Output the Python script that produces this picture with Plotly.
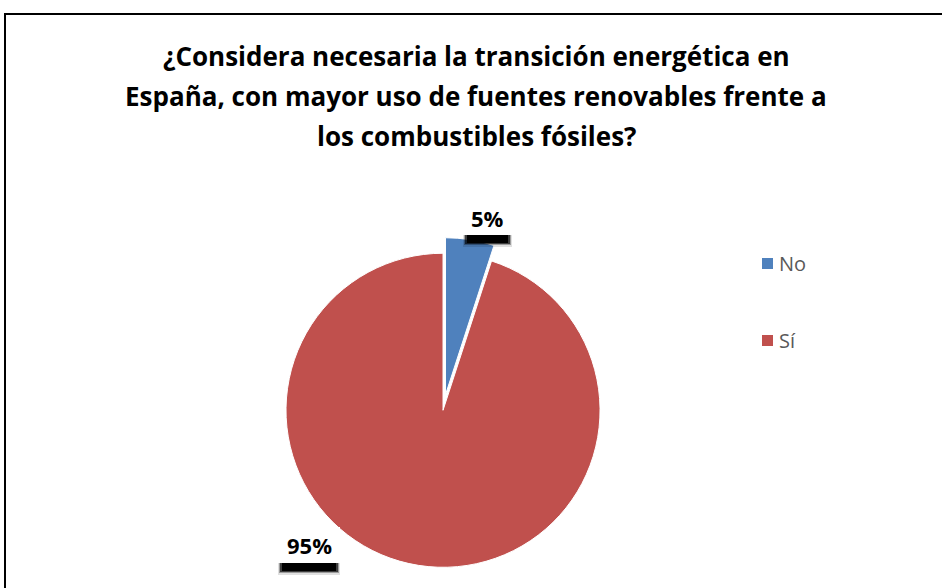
import plotly.graph_objects as go

# data
labels = ["No", "Sí"]
values = [5, 95]
colors = ["#4F81BD", "#C0504D"]
pulls = [0.1, 0]
title_lines = [
    "¿Considera necesaria la transición energética en",
    "España, con mayor uso de fuentes renovables frente a",
    "los combustibles fósiles?",
]

W, H = 942, 588
FONT = "Open Sans"

total = sum(values)
pct = [f"{round(100 * v / total)}%" for v in values]


def px_rect(x0, y0, x1, y1, **kw):
    """Rectangle given in pixels from the top-left corner."""
    return dict(type="rect", xref="paper", yref="paper", layer="above",
                x0=x0 / W, x1=x1 / W, y0=1 - y1 / H, y1=1 - y0 / H, **kw)


fig = go.Figure()
fig.add_trace(go.Pie(
    labels=labels, values=values, sort=False, direction="clockwise",
    rotation=0, pull=pulls, textinfo="none", hoverinfo="label+percent",
    marker=dict(colors=colors, line=dict(color="white", width=1)),
    domain=dict(x=[0.2866, 0.6540], y=[0.0085, 0.5960]),
    showlegend=False,
))

annotations = []
shapes = []
# title, one annotation per line to keep the wide line spacing
for i, line in enumerate(title_lines):
    annotations.append(dict(
        text=f"<b>{line}</b>", x=476 / W, y=1 - (56 + 40 * i) / H,
        xref="paper", yref="paper", showarrow=False,
        font=dict(family=FONT, size=26, color="black"),
        xanchor="center", yanchor="middle",
    ))

# data labels: white box with a soft drop shadow underneath
label_boxes = [(463, 200, 512, 235), (278, 527, 340, 563)]
shadow = [(0, 12, 0.12), (1, 10, 0.3), (2, 9, 0.6), (4, 8, 1.0)]
for txt, (x0, y0, x1, y1) in zip(pct, label_boxes):
    for inset, dy, op in shadow:
        shapes.append(px_rect(x0 + inset, y0 + dy, x1 - inset, y1 + dy,
                              fillcolor="black", opacity=op,
                              line=dict(width=0)))
    shapes.append(px_rect(x0, y0, x1, y1, fillcolor="white",
                          line=dict(width=0)))
    annotations.append(dict(
        text=f"<b>{txt}</b>", x=(x0 + x1) / 2 / W,
        y=1 - (y0 + y1) / 2 / H, xref="paper", yref="paper",
        showarrow=False, xanchor="center", yanchor="middle",
        font=dict(family=FONT, size=22, color="black"),
    ))

# legend
legend_y = [263, 340]
for lab, col, ly in zip(labels, colors, legend_y):
    shapes.append(px_rect(762, ly - 5, 773, ly + 6, fillcolor=col,
                          line=dict(width=0)))
    annotations.append(dict(
        text=lab, x=777 / W, y=1 - ly / H, xref="paper", yref="paper",
        showarrow=False, xanchor="left", yanchor="middle",
        font=dict(family=FONT, size=20, color="#595959"),
    ))

# chart frame
shapes.append(px_rect(5, 14, W + 40, H + 40, line=dict(color="black",
                      width=2), fillcolor="rgba(0,0,0,0)"))

fig.update_layout(
    width=W, height=H, margin=dict(l=0, r=0, t=0, b=0),
    paper_bgcolor="white", plot_bgcolor="white",
    annotations=annotations, shapes=shapes,
)

fig.write_html(
    "out.html",
    config={"displayModeBar": False},
    post_script="document.body.style.margin='0px';"
                "document.body.style.overflow='hidden';",
)
